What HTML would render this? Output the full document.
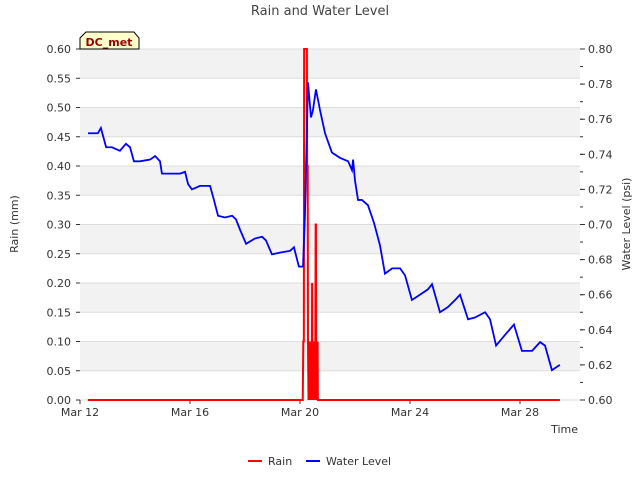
<!DOCTYPE html>
<html><head><meta charset="utf-8"><style>
body{margin:0;background:#fff;font-family:"Liberation Sans","DejaVu Sans",sans-serif;}
svg text{font-family:"DejaVu Sans","Liberation Sans",sans-serif;}
</style></head><body>
<svg id="chart" width="640" height="480" xmlns="http://www.w3.org/2000/svg">
<text x="320" y="15" text-anchor="middle" font-size="13" fill="#444">Rain and Water Level</text>
<g id="bands"></g><g id="axes"></g><g id="series"></g>
<g>
<path d="M80,49 L80,38 L86,32 L134,32 L139,38 L139,49 Z" fill="#ffffcc" stroke="#000" stroke-width="1"/>
<text x="109" y="46" text-anchor="middle" font-size="11" font-weight="bold" fill="#990000">DC_met</text>
</g>
<text x="18" y="224" transform="rotate(-90 18 224)" text-anchor="middle" font-size="11" fill="#333">Rain (mm)</text>
<text x="630" y="224" transform="rotate(-90 630 224)" text-anchor="middle" font-size="11" fill="#333">Water Level (psi)</text>
<text x="578" y="433" text-anchor="end" font-size="11" fill="#333">Time</text>
<g>
<g><line x1="248" y1="461" x2="262" y2="461" stroke="red" stroke-width="2"/><text x="268" y="465" font-size="11" fill="#333">Rain</text></g>
<g><line x1="306" y1="461" x2="320" y2="461" stroke="blue" stroke-width="2"/><text x="326" y="465" font-size="11" fill="#333">Water Level</text></g>
</g>
</svg>
<script>
const xTickLabels=["Mar 12","Mar 16","Mar 20","Mar 24","Mar 28"];
const xTickDays=[0,4,8,12,16];
const leftTicks=[0,0.05,0.1,0.15,0.2,0.25,0.3,0.35,0.4,0.45,0.5,0.55,0.6];
const rightTicks=[0.6,0.62,0.64,0.66,0.68,0.7,0.72,0.74,0.76,0.78,0.8];
const rainDays=[0.29,8.10,8.12,8.14,8.15,8.25,8.26,8.28,8.29,8.31,8.32,8.34,8.35,8.37,8.38,8.40,8.41,8.43,8.44,8.46,8.47,8.49,8.50,8.52,8.53,8.55,8.57,8.58,8.59,8.61,8.62,8.64,8.65,17.45];
const rainVals=[0,0,0.1,0.1,0.6,0.6,0.4,0.4,0.1,0,0.1,0,0.1,0,0.1,0,0.1,0,0.2,0,0.1,0,0.1,0,0.1,0,0.3,0.3,0,0.1,0,0.1,0,0];
const wlDays=[0.29,0.65,0.76,0.95,1.16,1.45,1.67,1.82,1.96,2.18,2.55,2.73,2.91,2.98,3.27,3.64,3.82,3.93,4.07,4.36,4.73,4.87,5.02,5.27,5.53,5.67,5.82,6.04,6.36,6.62,6.76,6.98,7.27,7.64,7.78,7.96,8.11,8.18,8.29,8.40,8.47,8.58,8.73,8.91,9.16,9.45,9.75,9.89,9.93,10.0,10.11,10.25,10.47,10.69,10.91,11.09,11.35,11.64,11.82,12.07,12.36,12.65,12.8,13.09,13.38,13.64,13.82,14.11,14.36,14.73,14.91,15.13,15.45,15.78,16.07,16.44,16.73,16.91,17.16,17.45];
const wlVals=[0.752,0.752,0.755,0.744,0.744,0.742,0.746,0.744,0.736,0.736,0.737,0.739,0.736,0.729,0.729,0.729,0.730,0.723,0.720,0.722,0.722,0.714,0.705,0.704,0.705,0.703,0.697,0.689,0.692,0.693,0.691,0.683,0.684,0.685,0.687,0.676,0.676,0.705,0.781,0.761,0.765,0.777,0.765,0.752,0.741,0.738,0.736,0.731,0.737,0.725,0.714,0.714,0.711,0.701,0.688,0.672,0.675,0.675,0.671,0.657,0.660,0.663,0.666,0.650,0.653,0.657,0.660,0.646,0.647,0.650,0.646,0.631,0.637,0.643,0.628,0.628,0.633,0.631,0.617,0.620];
const X0=80,X1=580,Y0=400,Y1=49,DMAX=500/27.5;
const xs=d=>X0+d/DMAX*(X1-X0);
const yl=v=>Y0-v/0.6*(Y0-Y1);
const yr=v=>Y0-(v-0.6)/0.2*(Y0-Y1);
const NS="http://www.w3.org/2000/svg";
function mk(tag,attrs,parent){const e=document.createElementNS(NS,tag);for(const k in attrs)e.setAttribute(k,attrs[k]);parent.appendChild(e);return e;}
const bands=document.getElementById('bands'),axes=document.getElementById('axes'),series=document.getElementById('series');
mk('rect',{x:X0,y:Y1,width:X1-X0,height:Y0-Y1,fill:'#fff'},bands);
for(let i=1;i<leftTicks.length-1;i+=2){
 const r=mk('rect',{x:X0,y:yl(leftTicks[i+1]),width:X1-X0,height:yl(leftTicks[i])-yl(leftTicks[i+1]),fill:'#f2f2f2'},bands);
 
 
}
leftTicks.forEach(v=>{
 const y=yl(v);
 mk('line',{x1:X0,y1:y,x2:X1,y2:y,stroke:'#dddddd','stroke-width':1},bands);
 mk('line',{x1:X0-4,y1:y,x2:X0,y2:y,stroke:'#333'},axes);
 const t=mk('text',{x:X0-9,y:y+4,'text-anchor':'end','font-size':11,fill:'#333'},axes);
 t.textContent=v.toFixed(2);
 
 
});
for(let v=0.6;v<=0.8001;v+=0.01){const y=yr(v);mk('line',{x1:X1,y1:y,x2:X1+3,y2:y,stroke:'#333'},axes);}
rightTicks.forEach(v=>{
 const y=yr(v);
 mk('line',{x1:X1,y1:y,x2:X1+5,y2:y,stroke:'#333'},axes);
 const t=mk('text',{x:X1+8,y:y+4,'font-size':11,fill:'#333'},axes);
 t.textContent=v.toFixed(2);
 
 
});
xTickDays.forEach((d,i)=>{
 const x=xs(d);
 mk('line',{x1:x,y1:Y0,x2:x,y2:Y0+4,stroke:'#333'},axes);
 const t=mk('text',{x:x,y:Y0+16,'text-anchor':'middle','font-size':11,fill:'#333'},axes);
 t.textContent=xTickLabels[i];
 
 
});
const rp=mk('polyline',{points:rainDays.map((d,i)=>xs(d)+','+yl(rainVals[i])).join(' '),fill:'none',stroke:'red','stroke-width':2},series);


const wp=mk('polyline',{points:wlDays.map((d,i)=>xs(d)+','+yr(wlVals[i])).join(' '),fill:'none',stroke:'blue','stroke-width':1.8},series);


</script>
</body></html>
